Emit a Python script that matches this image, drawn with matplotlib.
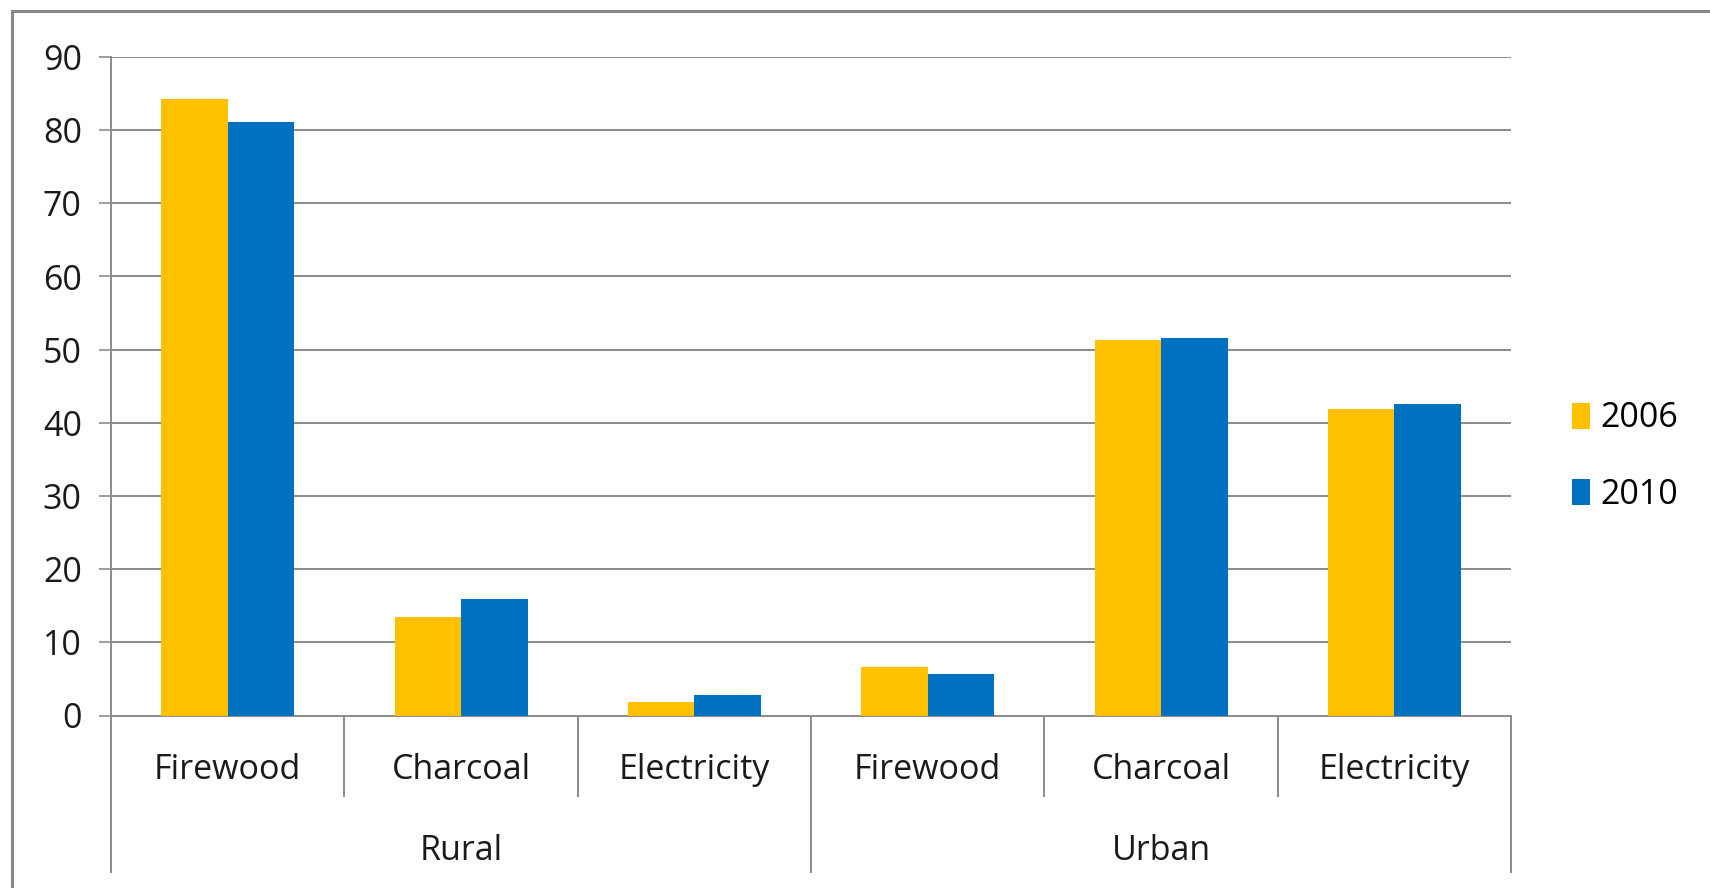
import numpy as np
import matplotlib.pyplot as plt
from matplotlib.lines import Line2D

# data
categories = ["Firewood", "Charcoal", "Electricity", "Firewood", "Charcoal", "Electricity"]
groups = ["Rural", "Urban"]
vals_2006 = [84.2, 13.4, 1.9, 6.6, 51.3, 41.9]
vals_2010 = [81.1, 15.9, 2.8, 5.7, 51.6, 42.6]
series = ["2006", "2010"]
yticks = [0, 10, 20, 30, 40, 50, 60, 70, 80, 90]

yellow = "#FFC000"
blue = "#0070C0"
gray = "#8C8C8C"
fs = 24.5

plt.rcParams['font.family'] = ['Open Sans', 'DejaVu Sans']

fig = plt.figure(figsize=(17.1, 8.88), dpi=100)
ax = fig.add_axes([111/1710, 1 - 715.5/888, (1511 - 111)/1710, (715.5 - 57)/888])

x = np.arange(len(categories))
w = 0.285
ax.bar(x - w/2, vals_2006, w, color=yellow, label=series[0], zorder=3)
ax.bar(x + w/2, vals_2010, w, color=blue, label=series[1], zorder=3)

ax.set_xlim(-0.5, len(categories) - 0.5)
ax.set_ylim(0, 90)
ax.set_yticks(yticks)
ax.yaxis.grid(True, color=gray, linewidth=1.4, zorder=0)
ax.tick_params(axis='y', length=9, width=1.2, color=gray, pad=12, labelsize=fs, labelcolor='#1a1a1a')
ax.set_xticks([])
for s in ['top', 'right']:
    ax.spines[s].set_visible(False)
ax.spines['left'].set_color(gray)
ax.spines['left'].set_linewidth(1.4)
ax.spines['bottom'].set_color(gray)
ax.spines['bottom'].set_linewidth(1.4)

# multi-level category axis
trans = ax.get_xaxis_transform()
for i, c in enumerate(categories):
    ax.text(i, -0.083, c, transform=trans, ha='center', va='center', fontsize=fs, color='#1a1a1a')
for b in [0.5, 1.5, 3.5, 4.5]:
    ax.plot([b, b], [0, -0.122], transform=trans, color=gray, lw=1.4, clip_on=False)
for b in [-0.5, 2.5, 5.5]:
    ax.plot([b, b], [0, -0.238], transform=trans, color=gray, lw=1.4, clip_on=False)
for g, gname in enumerate(groups):
    ax.text(g*3 + 1, -0.206, gname, transform=trans, ha='center', va='center', fontsize=fs, color='#1a1a1a')

ax.legend(loc='center left', bbox_to_anchor=(1.022, 0.393), frameon=False, fontsize=fs,
          handlelength=0.52, handleheight=0.8, handletextpad=0.3, labelspacing=1.25)

# outer chart border (clipped at right and bottom)
fig.add_artist(Line2D([12/1710, 12/1710], [0, 1 - 11/888], color='#888888', lw=2.2))
fig.add_artist(Line2D([12/1710, 1], [1 - 11/888, 1 - 11/888], color='#888888', lw=2.2))

fig.savefig("out.png", dpi=100)
